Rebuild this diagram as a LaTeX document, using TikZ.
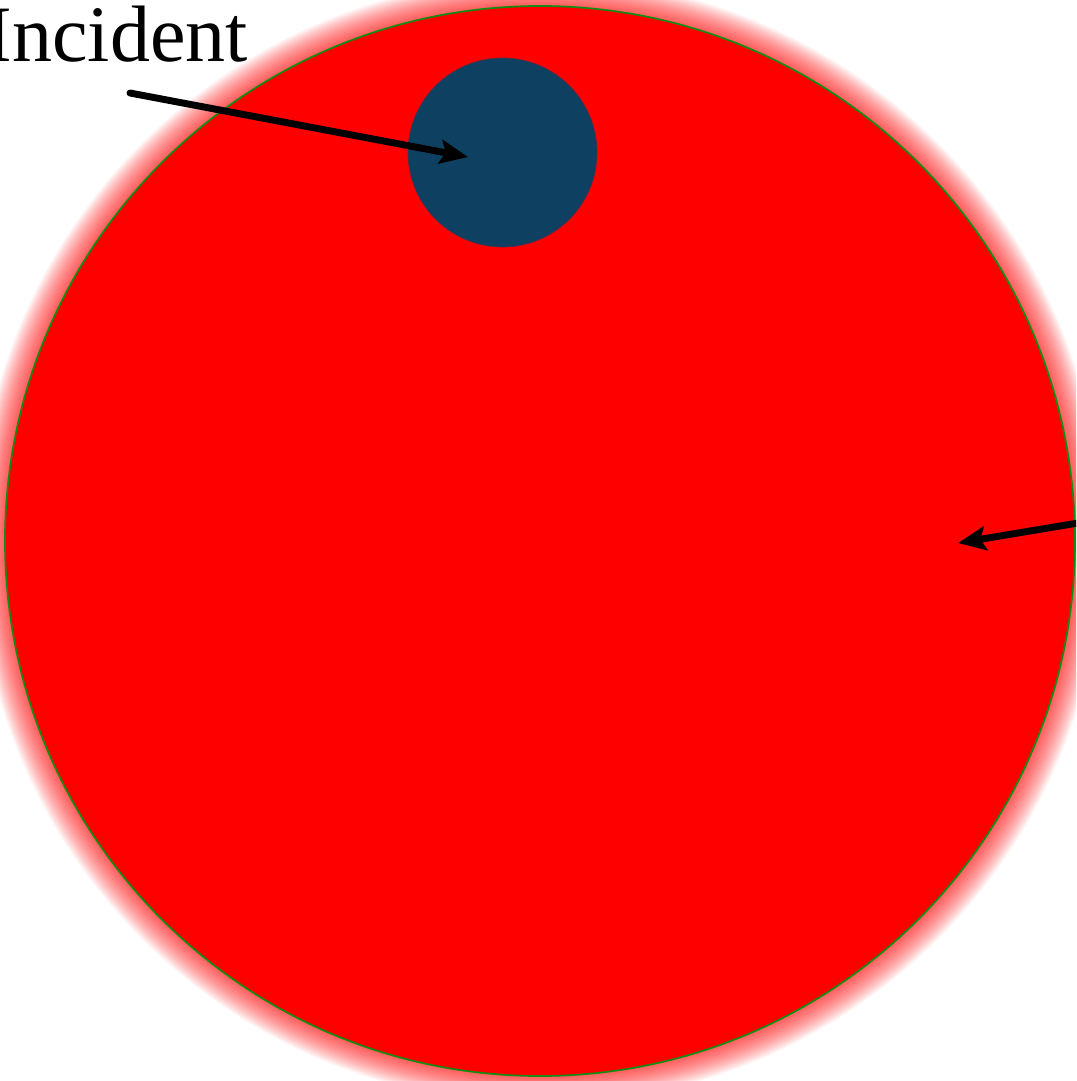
\documentclass[tikz,border=0pt]{standalone}
\usepackage{fontspec}
\setmainfont{Liberation Serif}
\usetikzlibrary{arrows.meta}
\definecolor{bluedot}{RGB}{14,64,97}
\definecolor{rimgreen}{RGB}{20,140,20}
\tikzset{
  ptr/.style={line width=5.2pt, line cap=round, -{Stealth[length=21pt, width=18pt, inset=4pt]}},
}
\begin{document}
\begin{tikzpicture}[x=0.75pt,y=-0.75pt]
\useasboundingbox (0,0) rectangle (1076,1081);
\clip (0,0) rectangle (1076,1081);
\fill[white] (0,0) rectangle (1076,1081);
% glow
\foreach \k in {1,...,28}{
  \fill[red, opacity=0.03] (540,541) circle[radius=535+\k];
}
\node[circle, fill=red, draw=rimgreen, line width=1.3pt, minimum size=802.5pt, inner sep=0pt] (big) at (540,541) {};
\node[circle, fill=bluedot, draw=bluedot!70!red, line width=0.5pt, minimum size=141.75pt, inner sep=0pt] (dot) at (502.5,152.5) {};
\node[anchor=base east, font=\fontsize{60}{64}\selectfont, inner sep=0pt] (lbl) at (248,62) {Incident};
\coordinate (s1) at (130,93);
\coordinate (t1) at (468,157);
\coordinate (s2) at (1090,521);
\coordinate (t2) at (958,543);
\draw[ptr] (s1) -- (t1);
\draw[ptr] (s2) -- (t2);
\end{tikzpicture}
\end{document}
